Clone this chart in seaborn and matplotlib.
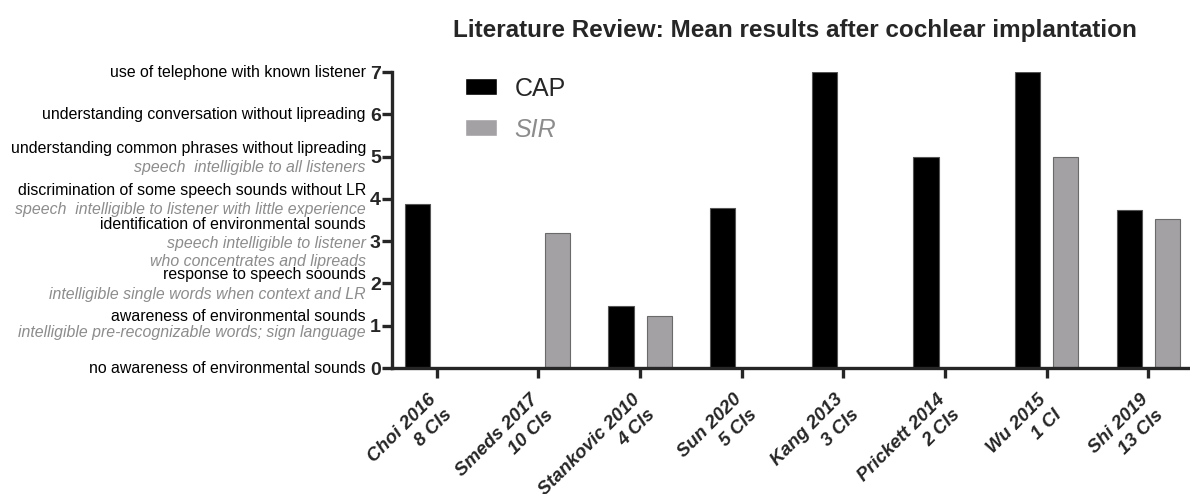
import numpy as np
import pandas as pd
import matplotlib.pyplot as plt
import matplotlib.transforms as mtransforms
import seaborn as sns

# Studies and mean scores (NaN = not reported)
studies = ["Choi 2016", "Smeds 2017", "Stankovic 2010", "Sun 2020",
           "Kang 2013", "Prickett 2014", "Wu 2015", "Shi 2019"]
n_cis = ["8 CIs", "10 CIs", "4 CIs", "5 CIs", "3 CIs", "2 CIs", "1 CI", "13 CIs"]
cap = [3.88, np.nan, 1.47, 3.78, 7.0, 5.0, 7.0, 3.75]
sir = [np.nan, 3.19, 1.22, np.nan, np.nan, np.nan, 5.0, 3.52]

# Scale descriptions
cap_scale = ["no awareness of environmental sounds",
             "awareness of environmental sounds",
             "response to speech soounds",
             "identification of environmental sounds",
             "discrimination of some speech sounds without LR",
             "understanding common phrases without lipreading",
             "understanding conversation without lipreading",
             "use of telephone with known listener"]
sir_scale = {1: "intelligible pre-recognizable words; sign language",
             2: "intelligible single words when context and LR",
             3: "speech intelligible to listener\nwho concentrates and lipreads",
             4: "speech  intelligible to listener with little experience",
             5: "speech  intelligible to all listeners"}

labels = [f"{s}\n{n}" for s, n in zip(studies, n_cis)]
df = pd.DataFrame({
    "study": labels * 2,
    "score": cap + sir,
    "scale": ["CAP"] * len(cap) + ["SIR"] * len(sir),
}).dropna()

sns.set_style("ticks")
plt.rcParams["font.family"] = ["Liberation Sans", "DejaVu Sans"]

grey = "#a5a0a5"
text_grey = "#8c8c8c"

fig = plt.figure(figsize=(11.9, 4.94), dpi=100)
ax = fig.add_axes([0.3294, 0.255, 0.6706, 0.599])

sns.barplot(data=df, x="study", y="score", hue="scale", order=labels,
            hue_order=["CAP", "SIR"], palette={"CAP": "black", "SIR": grey},
            width=0.75, gap=0.34, errorbar=None, ax=ax)

for cont, ec in zip(ax.containers, ["#555555", "#6a6a6a"]):
    for p in cont:
        p.set_edgecolor(ec)
        p.set_linewidth(0.8)

ax.set_ylim(0, 7)
ax.set_xlim(-0.44, 7.41)
ax.set_yticks(range(8))
ax.set_xlabel("")
ax.set_ylabel("")
sns.despine(ax=ax)
for s in ["left", "bottom"]:
    ax.spines[s].set_linewidth(2.4)
ax.tick_params(axis="y", length=7.5, width=2.4, pad=0.5, labelsize=14)
ax.tick_params(axis="x", length=7.5, width=2.4, pad=2)
for t in ax.get_yticklabels():
    t.set_fontweight("bold")
ax.set_xticks(range(len(labels)))
ax.set_xticklabels(labels, rotation=45, ha="right", rotation_mode="anchor",
                   fontsize=13.5, fontweight="bold", fontstyle="italic",
                   va="top", linespacing=1.4)
shift = mtransforms.ScaledTranslation(-6.5 / 72, -7 / 72, fig.dpi_scale_trans)
for t in ax.get_xticklabels():
    t.set_transform(t.get_transform() + shift)

# scale descriptions at the left
trans = mtransforms.blended_transform_factory(ax.transAxes, ax.transData)
cap_dy = [0, 0.23, 0.22, 0.40, 0.21, 0.20, 0, 0]
sir_dy = {1: -0.17, 2: -0.25, 3: -0.27, 4: -0.24, 5: -0.25}
for lvl, txt in enumerate(cap_scale):
    ax.text(-0.0326, lvl + cap_dy[lvl], txt, transform=trans, ha="right",
            va="center", fontsize=11.4, color="black", clip_on=False)
for lvl, txt in sir_scale.items():
    ax.text(-0.0326, lvl + sir_dy[lvl], txt, transform=trans, ha="right",
            va="center", fontsize=11.4, color=text_grey, style="italic",
            linespacing=1.2, clip_on=False)

# legend
handles, _ = ax.get_legend_handles_labels()
leg = ax.legend(handles, ["CAP", "SIR"], loc="upper left",
                bbox_to_anchor=(0.091, 0.985), frameon=False, fontsize=18,
                handlelength=1.3, handleheight=0.65, handletextpad=0.7,
                labelspacing=0.68, borderpad=0, borderaxespad=0)
leg.get_texts()[1].set_color(text_grey)
leg.get_texts()[1].set_fontstyle("italic")

fig.text(0.668, 0.939, "Literature Review: Mean results after cochlear implantation",
         ha="center", va="center", fontsize=17.5, fontweight="bold")

fig.savefig("out.png", dpi=100)
